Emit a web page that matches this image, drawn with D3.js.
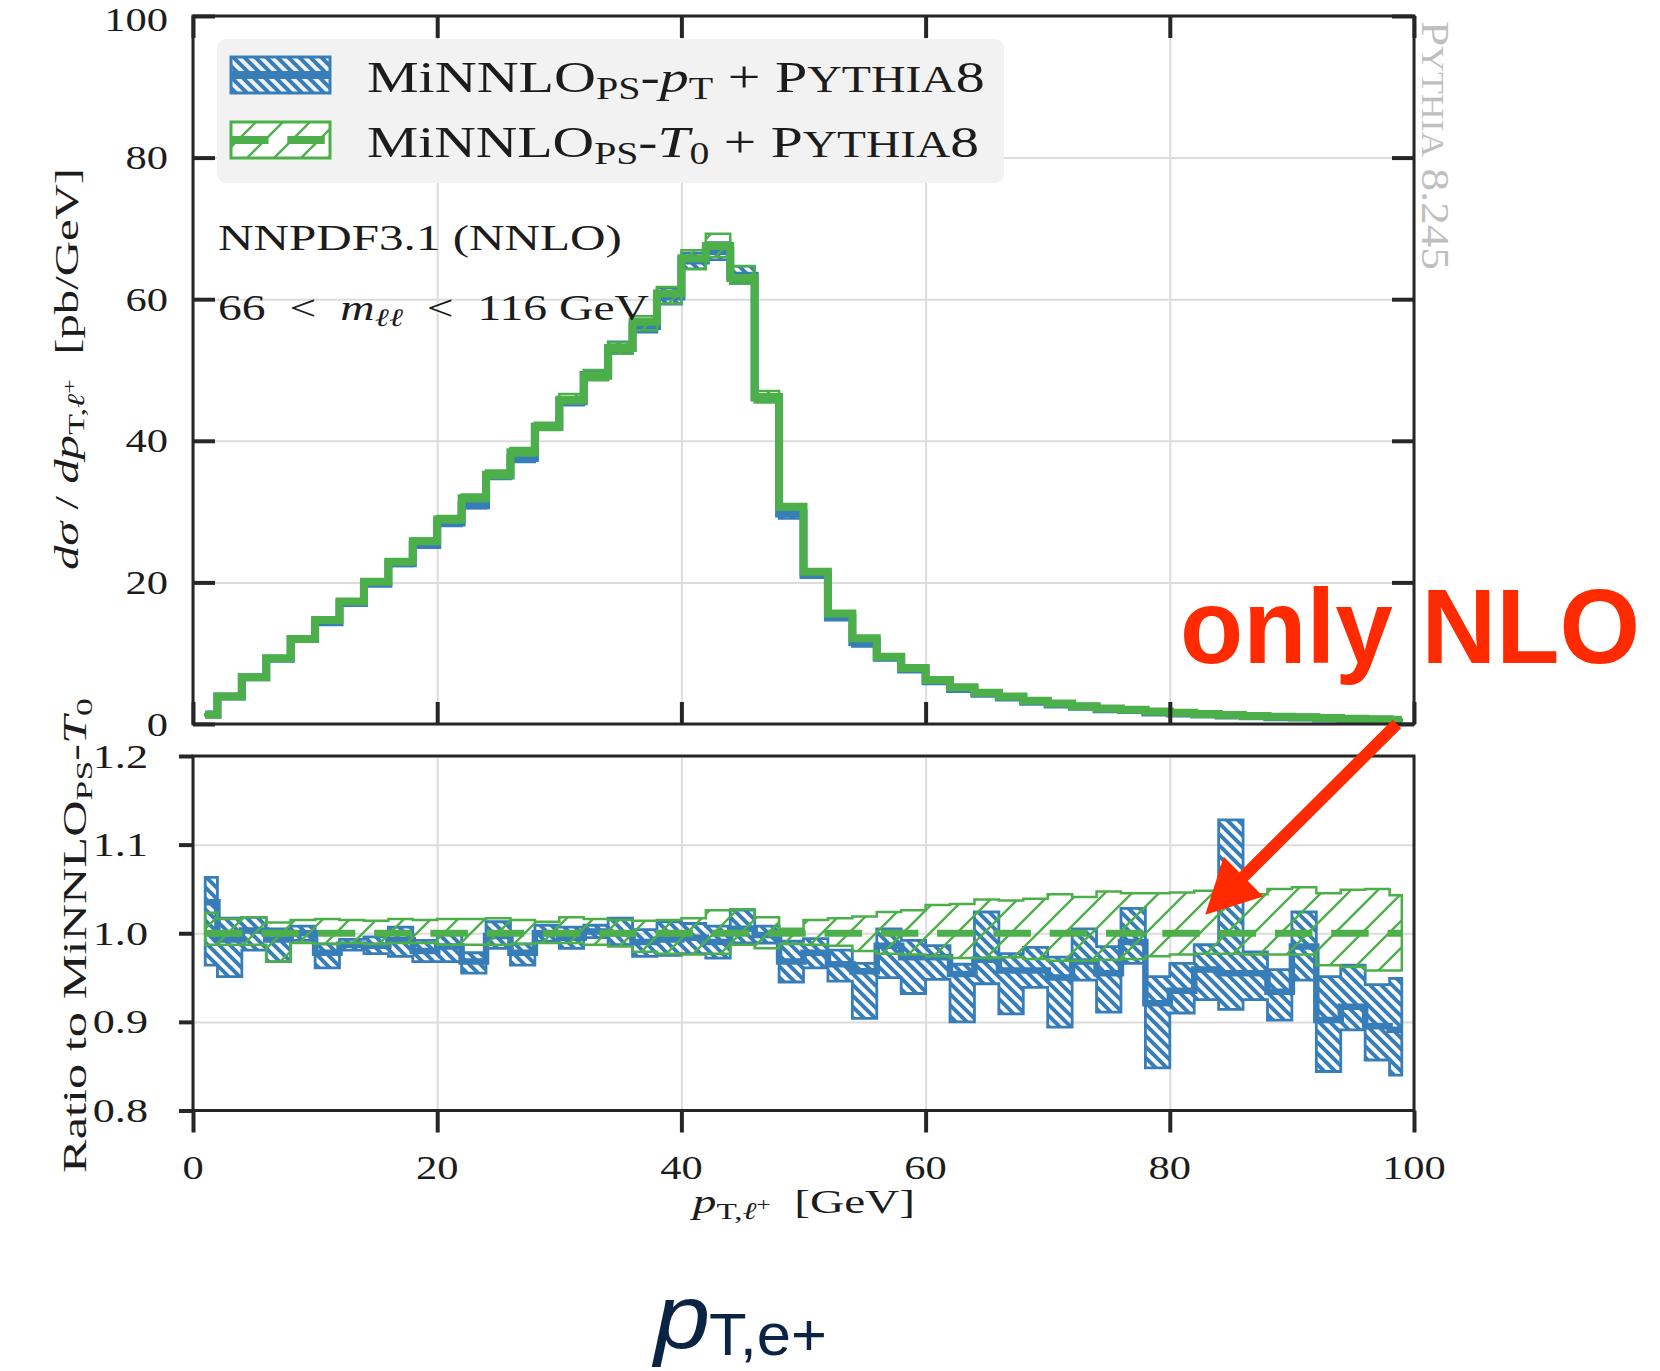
<!DOCTYPE html>
<html>
<head>
<meta charset="utf-8">
<script src="https://cdn.jsdelivr.net/npm/d3@7"></script>
<style>
  html, body { margin: 0; padding: 0; background: #ffffff; }
  svg { display: block; }
</style>
</head>
<body>
<svg id="chart" width="1660" height="1371"></svg>
<script>
// ---- data: transverse momentum of the positive lepton, 2 GeV bins ----
const binEdges = [1, 2, 4, 6, 8, 10, 12, 14, 16, 18, 20, 22, 24, 26, 28, 30, 32, 34, 36, 38, 40,
  42, 44, 46, 48, 50, 52, 54, 56, 58, 60, 62, 64, 66, 68, 70, 72, 74, 76, 78, 80,
  82, 84, 86, 88, 90, 92, 94, 96, 98, 99];

// dσ/dpT [pb/GeV], MiNNLO_PS-T0 + Pythia8
const minnloT0 = [1.3, 3.9, 6.6, 9.3, 12.0, 14.7, 17.3, 20.1, 22.9, 25.8,
  28.9, 31.9, 35.2, 38.4, 42.0, 45.8, 49.2, 53.1, 56.8, 60.8,
  65.8, 67.5, 63.0, 46.2, 30.7, 21.5, 15.6, 12.1, 9.5, 7.9,
  6.2, 5.2, 4.4, 3.9, 3.3, 2.9, 2.5, 2.2, 2.0, 1.75,
  1.6, 1.4, 1.27, 1.13, 1.04, 0.94, 0.85, 0.75, 0.66, 0.6];

// dσ/dpT [pb/GeV], MiNNLO_PS-pT + Pythia8
const minnloPt = [1.35, 3.87, 6.62, 9.23, 12.0, 14.38, 17.08, 19.82, 22.72, 25.28,
  28.47, 30.88, 35.09, 37.56, 42.0, 45.57, 49.3, 53.1, 56.23, 60.37,
  65.47, 66.8, 63.32, 46.11, 29.72, 21.03, 15.05, 11.58, 9.37, 7.69,
  6.03, 4.96, 4.27, 3.74, 3.16, 2.76, 2.42, 2.10, 1.98, 1.61,
  1.50, 1.34, 1.21, 1.08, 0.97, 0.93, 0.77, 0.69, 0.59, 0.53];

// ratio of MiNNLO_PS-pT to MiNNLO_PS-T0: central value and scale band
const ratioPtCentral = [1.035, 0.993, 1.003, 0.993, 1.0, 0.978, 0.987, 0.986, 0.992, 0.98,
  0.985, 0.968, 0.997, 0.978, 1.0, 0.995, 1.002, 1.0, 0.99, 0.993,
  0.995, 0.99, 1.005, 0.998, 0.968, 0.978, 0.965, 0.957, 0.986, 0.973,
  0.973, 0.954, 0.97, 0.958, 0.958, 0.95, 0.968, 0.955, 0.99, 0.921,
  0.935, 0.959, 0.955, 0.955, 0.934, 0.985, 0.902, 0.917, 0.895, 0.891];
const ratioPtLow = [0.964, 0.951, 0.981, 0.968, 0.992, 0.961, 0.981, 0.977, 0.974, 0.968,
  0.968, 0.955, 0.983, 0.964, 0.991, 0.983, 0.995, 0.987, 0.974, 0.975,
  0.977, 0.972, 0.989, 0.989, 0.945, 0.961, 0.946, 0.904, 0.95, 0.932,
  0.948, 0.9, 0.943, 0.909, 0.939, 0.894, 0.947, 0.911, 0.966, 0.848,
  0.91, 0.925, 0.914, 0.925, 0.902, 0.947, 0.844, 0.891, 0.857, 0.84];
const ratioPtHigh = [1.063, 1.017, 1.018, 1.005, 1.008, 0.988, 0.993, 0.996, 1.007, 0.992,
  1.0, 0.978, 1.013, 0.988, 1.009, 1.007, 1.009, 1.017, 1.004, 1.013,
  1.011, 1.008, 1.026, 1.008, 0.991, 0.994, 0.981, 0.966, 1.005, 0.992,
  0.986, 0.965, 1.024, 0.977, 0.984, 0.973, 1.005, 0.985, 1.028, 0.951,
  0.966, 0.987, 1.128, 0.979, 0.959, 1.024, 0.951, 0.964, 0.942, 0.949];

// scale band of MiNNLO_PS-T0 relative to its own central value
const ratioReference = 1.0;
const ratioT0Low = [0.987, 0.987, 0.987, 0.968, 0.989, 0.988, 0.989, 0.988, 0.989, 0.989,
  0.987, 0.987, 0.987, 0.988, 0.989, 0.989, 0.987, 0.985, 0.979, 0.977,
  0.976, 0.977, 0.987, 0.983, 0.988, 0.987, 0.986, 0.98, 0.977, 0.976,
  0.974, 0.972, 0.972, 0.973, 0.971, 0.969, 0.969, 0.97, 0.971, 0.974,
  0.976, 0.977, 0.977, 0.976, 0.976, 0.976, 0.964, 0.962, 0.958, 0.958];
const ratioT0High = [1.023, 1.016, 1.018, 1.012, 1.015, 1.016, 1.015, 1.014, 1.016, 1.015,
  1.016, 1.016, 1.017, 1.015, 1.013, 1.018, 1.016, 1.015, 1.014, 1.015,
  1.017, 1.026, 1.027, 1.018, 1.005, 1.015, 1.017, 1.019, 1.024, 1.026,
  1.032, 1.033, 1.038, 1.037, 1.039, 1.044, 1.041, 1.047, 1.045, 1.045,
  1.046, 1.048, 1.045, 1.044, 1.05, 1.052, 1.045, 1.049, 1.05, 1.043];

// axis ticks
const xTicks = [0, 20, 40, 60, 80, 100];
const yTicksMain = [0, 20, 40, 60, 80, 100];
const yTicksRatio = [0.8, 0.9, 1.0, 1.1, 1.2];

// ---- styling ----
const SERIF = "'Liberation Serif', 'Times New Roman', serif";
const SANS = "'Liberation Sans', Arial, sans-serif";
const INK = '#1c1c1c';
const FRAME = '#262626';
const GRID = '#dcdcdc';
const BLUE = '#377eb8';
const GREEN = '#4daf4a';
const RED = '#ff2a00';
const NAVY = '#0c2444';
const DASH = '37.5,18.8';

const svg = d3.select('#chart');
const defs = svg.append('defs');

// scales
const x = d3.scaleLinear().domain([0, 100]).range([193, 1414]);
const y = d3.scaleLinear().domain([0, 100]).range([724, 16]);
const r = d3.scaleLinear().domain([0.8, 1.2]).range([1110.5, 756]);

// hatch patterns: "\\" for the pT variant, "//" for the T0 variant
function hatch(id, s, dir, color, w) {
  const p = defs.append('pattern').attr('id', id)
    .attr('patternUnits', 'userSpaceOnUse').attr('width', s).attr('height', s);
  const d = dir === 'back'
    ? `M-2,-2L${s + 2},${s + 2}M${s - 3},-3L${s + 3},3M-3,${s - 3}L3,${s + 3}`
    : `M-2,${s + 2}L${s + 2},-2M-3,3L3,-3M${s - 3},${s + 3}L${s + 3},${s - 3}`;
  p.append('path').attr('d', d).attr('stroke', color)
    .attr('stroke-width', w).attr('fill', 'none');
}
hatch('hatchBlue', 11, 'back', BLUE, 4);
hatch('hatchGreen', 27, 'fwd', GREEN, 2.4);

// rich text helper: parts with baseline offsets; fitted to a width or stretched by sx
function rich(parent, parts, o) {
  const g = parent.append('g');
  const t = g.append('text')
    .attr('font-family', o.family || SERIF)
    .attr('fill', o.color || INK)
    .attr('font-size', o.size)
    .attr('font-weight', o.weight || 'normal');
  let prev = 0;
  parts.forEach(p => {
    const b = p.b || 0;
    const ts = t.append('tspan').text(p.t).attr('dy', b - prev);
    prev = b;
    if (p.size) ts.attr('font-size', p.size);
    if (p.it) ts.attr('font-style', 'italic');
  });
  const bb = t.node().getBBox();
  const sx = o.width ? o.width / bb.width : (o.sx || 1);
  const anchor = o.anchor || 'start';
  const ox = anchor === 'start' ? -bb.x : anchor === 'end' ? -(bb.x + bb.width) : -(bb.x + bb.width / 2);
  g.attr('transform', `translate(${o.x},${o.y}) rotate(${o.rot || 0}) scale(${sx},1) translate(${ox},0)`);
  return g;
}

// step geometry helpers
const last = binEdges.length - 2;
function stepPoints(vals) {
  return binEdges.map((e, i) => ({ x: e, v: vals[Math.min(i, last)] }));
}
function bandPoints(lo, hi) {
  return binEdges.map((e, i) => ({ x: e, lo: lo[Math.min(i, last)], hi: hi[Math.min(i, last)] }));
}
const lineGen = scaleY => d3.line().x(d => x(d.x)).y(d => scaleY(d.v)).curve(d3.curveStepAfter);
const areaGen = scaleY => d3.area().x(d => x(d.x)).y0(d => scaleY(d.lo)).y1(d => scaleY(d.hi)).curve(d3.curveStepAfter);

// ---- grid ----
function grid(scaleY, yTicks) {
  const g = svg.append('g').attr('color', GRID);
  g.append('g').attr('transform', `translate(0,${scaleY.range()[0]})`)
    .call(d3.axisBottom(x).tickValues(xTicks).tickSize(-(scaleY.range()[0] - scaleY.range()[1])).tickFormat(''))
    .call(s => s.select('.domain').remove())
    .selectAll('line').attr('stroke-width', 2);
  g.append('g').attr('transform', `translate(${x.range()[0]},0)`)
    .call(d3.axisLeft(scaleY).tickValues(yTicks).tickSize(-(x.range()[1] - x.range()[0])).tickFormat(''))
    .call(s => s.select('.domain').remove())
    .selectAll('line').attr('stroke-width', 2);
}
grid(y, yTicksMain);
grid(r, yTicksRatio);

// ---- upper panel: differential cross section ----
const upper = svg.append('g');
const ptBandLo = minnloPt.map((v, i) => v * ratioPtLow[i] / ratioPtCentral[i]);
const ptBandHi = minnloPt.map((v, i) => v * ratioPtHigh[i] / ratioPtCentral[i]);
const t0BandLo = minnloT0.map((v, i) => v * ratioT0Low[i]);
const t0BandHi = minnloT0.map((v, i) => v * ratioT0High[i]);

upper.append('path').attr('d', areaGen(y)(bandPoints(ptBandLo, ptBandHi)))
  .attr('fill', 'url(#hatchBlue)').attr('stroke', BLUE).attr('stroke-width', 2.5);
upper.append('path').attr('d', lineGen(y)(stepPoints(minnloPt)))
  .attr('fill', 'none').attr('stroke', BLUE).attr('stroke-width', 8);
upper.append('path').attr('d', areaGen(y)(bandPoints(t0BandLo, t0BandHi)))
  .attr('fill', 'url(#hatchGreen)').attr('stroke', GREEN).attr('stroke-width', 2.5);
upper.append('path').attr('d', lineGen(y)(stepPoints(minnloT0)))
  .attr('fill', 'none').attr('stroke', GREEN).attr('stroke-width', 8);

// ---- lower panel: ratio ----
const lower = svg.append('g');
lower.append('path').attr('d', areaGen(r)(bandPoints(ratioPtLow, ratioPtHigh)))
  .attr('fill', 'url(#hatchBlue)').attr('stroke', BLUE).attr('stroke-width', 2.8);
lower.append('path').attr('d', lineGen(r)(stepPoints(ratioPtCentral)))
  .attr('fill', 'none').attr('stroke', BLUE).attr('stroke-width', 6.5);
lower.append('path').attr('d', areaGen(r)(bandPoints(ratioT0Low, ratioT0High)))
  .attr('fill', 'url(#hatchGreen)').attr('stroke', GREEN).attr('stroke-width', 2.5);
lower.append('line')
  .attr('x1', x(binEdges[0])).attr('x2', x(binEdges[binEdges.length - 1]))
  .attr('y1', r(ratioReference)).attr('y2', r(ratioReference))
  .attr('stroke', GREEN).attr('stroke-width', 7).attr('stroke-dasharray', DASH);

// ---- frames and ticks ----
function frame(scaleY) {
  svg.append('rect')
    .attr('x', x.range()[0]).attr('y', scaleY.range()[1])
    .attr('width', x.range()[1] - x.range()[0])
    .attr('height', scaleY.range()[0] - scaleY.range()[1])
    .attr('fill', 'none').attr('stroke', FRAME).attr('stroke-width', 3);
}
frame(y);
frame(r);

function ticks(axis, tx, ty) {
  svg.append('g').attr('transform', `translate(${tx},${ty})`).attr('color', FRAME)
    .call(axis.tickFormat(''))
    .call(s => s.select('.domain').remove())
    .selectAll('line').attr('stroke-width', 4);
}
ticks(d3.axisLeft(y).tickValues(yTicksMain).tickSize(-22), x(0), 0);
ticks(d3.axisRight(y).tickValues(yTicksMain).tickSize(-22), x(100), 0);
ticks(d3.axisBottom(x).tickValues(xTicks).tickSize(-22), 0, y(0));
ticks(d3.axisTop(x).tickValues(xTicks).tickSize(-22), 0, y(100));
ticks(d3.axisLeft(r).tickValues(yTicksRatio).tickSize(14), x(0), 0);
ticks(d3.axisBottom(x).tickValues(xTicks).tickSize(22), 0, r(0.8));

// ---- tick labels ----
const labels = svg.append('g');
yTicksMain.forEach(v => rich(labels, [{ t: String(v) }],
  { x: 168, y: Math.max(y(v) + 11.5, 31), size: 34, sx: 1.25, anchor: 'end' }));
yTicksRatio.forEach(v => rich(labels, [{ t: d3.format('.1f')(v) }],
  { x: 148, y: r(v) + 11.5, size: 34, sx: 1.3, anchor: 'end' }));
xTicks.forEach(v => rich(labels, [{ t: String(v) }],
  { x: x(v), y: 1178.5, size: 34, sx: 1.25, anchor: 'middle' }));

// ---- axis titles ----
const NB = '\u00a0';
rich(labels, [
  { t: 'p', it: true },
  { t: 'T,', size: 24, b: 6 },
  { t: 'ℓ', size: 24, b: 6, it: true },
  { t: '+', size: 18, b: -2 },
  { t: NB + NB + '[GeV]', b: 0 }
], { x: 802.5, y: 1213, size: 34, width: 225, anchor: 'middle' });

rich(labels, [
  { t: 'dσ', it: true },
  { t: NB + '/' + NB },
  { t: 'dp', it: true },
  { t: 'T,', size: 24, b: 6 },
  { t: 'ℓ', size: 24, b: 6, it: true },
  { t: '+', size: 18, b: -2 },
  { t: NB + NB + '[pb/GeV]', b: 0 }
], { x: 78, y: 369, rot: -90, size: 34, width: 402, anchor: 'middle' });

rich(labels, [
  { t: 'Ratio' + NB + 'to' + NB + 'MiNNLO' },
  { t: 'PS', size: 24, b: 6 },
  { t: '-', b: 0 },
  { t: 'T', it: true },
  { t: '0', size: 24, b: 6 }
], { x: 86, y: 935.5, rot: -90, size: 34, width: 475, anchor: 'middle' });

// ---- legend ----
const legend = svg.append('g');
legend.append('rect').attr('x', 217).attr('y', 39).attr('width', 787).attr('height', 144)
  .attr('rx', 9).attr('fill', '#f2f2f2');
legend.append('rect').attr('x', 231).attr('y', 57).attr('width', 99).attr('height', 36)
  .attr('fill', 'url(#hatchBlue)').attr('stroke', BLUE).attr('stroke-width', 3);
legend.append('line').attr('x1', 231).attr('x2', 330).attr('y1', 75).attr('y2', 75)
  .attr('stroke', BLUE).attr('stroke-width', 8);
legend.append('rect').attr('x', 231).attr('y', 122).attr('width', 99).attr('height', 36)
  .attr('fill', '#ffffff').attr('stroke', 'none');
legend.append('rect').attr('x', 231).attr('y', 122).attr('width', 99).attr('height', 36)
  .attr('fill', 'url(#hatchGreen)').attr('stroke', GREEN).attr('stroke-width', 3);
legend.append('line').attr('x1', 231).attr('x2', 330).attr('y1', 140).attr('y2', 140)
  .attr('stroke', GREEN).attr('stroke-width', 8).attr('stroke-dasharray', DASH);

rich(legend, [
  { t: 'MiNNLO' },
  { t: 'PS', size: 31, b: 7 },
  { t: '-', b: 0 },
  { t: 'p', it: true },
  { t: 'T', size: 31, b: 7 },
  { t: NB + '+' + NB + 'P', b: 0 },
  { t: 'YTHIA', size: 37 },
  { t: '8' }
], { x: 367, y: 92, size: 45, width: 618 });

rich(legend, [
  { t: 'MiNNLO' },
  { t: 'PS', size: 31, b: 7 },
  { t: '-', b: 0 },
  { t: 'T', it: true },
  { t: '0', size: 31, b: 7 },
  { t: NB + '+' + NB + 'P', b: 0 },
  { t: 'YTHIA', size: 37 },
  { t: '8' }
], { x: 367, y: 157, size: 45, width: 612 });

// ---- setup annotations ----
rich(labels, [{ t: 'NNPDF3.1' + NB + '(NNLO)' }], { x: 218, y: 250, size: 35, width: 404 });
rich(labels, [
  { t: '66' + NB + NB + '<' + NB + NB },
  { t: 'm', it: true },
  { t: 'ℓℓ', it: true, size: 25, b: 6 },
  { t: NB + NB + '<' + NB + NB + '116' + NB + 'GeV', b: 0 }
], { x: 218, y: 320, size: 35, width: 431 });

rich(labels, [
  { t: 'P' },
  { t: 'YTHIA', size: 31 },
  { t: NB + '8.245' }
], { x: 1422, y: 21, rot: 90, size: 39, width: 249, color: '#bfbfbf' });

// ---- highlight: arrow and note ----
const arrowFrom = { x: 98.6, v: 0 };
const arrowTo = { x: 82.9, ratio: 1.021 };
(function drawArrow() {
  const x0 = x(arrowFrom.x), y0 = y(arrowFrom.v);
  const x1 = x(arrowTo.x), y1 = r(arrowTo.ratio);
  const dx = x1 - x0, dy = y1 - y0, len = Math.hypot(dx, dy);
  const ux = dx / len, uy = dy / len, nx = -uy, ny = ux;
  const head = 54, half = 28;
  const bx = x1 - ux * head, by = y1 - uy * head;
  svg.append('line').attr('x1', x0).attr('y1', y0)
    .attr('x2', bx + ux * 4).attr('y2', by + uy * 4)
    .attr('stroke', RED).attr('stroke-width', 12);
  svg.append('path')
    .attr('d', `M${x1},${y1}L${bx + nx * half},${by + ny * half}L${bx - nx * half},${by - ny * half}Z`)
    .attr('fill', RED);
})();

rich(svg, [{ t: 'only' + NB + 'NLO' }], { x: 1180, y: 663, size: 105, width: 460, family: SANS, weight: 'bold', color: RED });

// ---- observable caption ----
rich(svg, [{ t: 'p', it: true }], { x: 651, y: 1348, size: 90, sx: 1.12, family: SANS, color: NAVY });
rich(svg, [{ t: 'T,e+' }], { x: 709, y: 1355, size: 60, width: 118, family: SANS, color: NAVY });
</script>
</body>
</html>
